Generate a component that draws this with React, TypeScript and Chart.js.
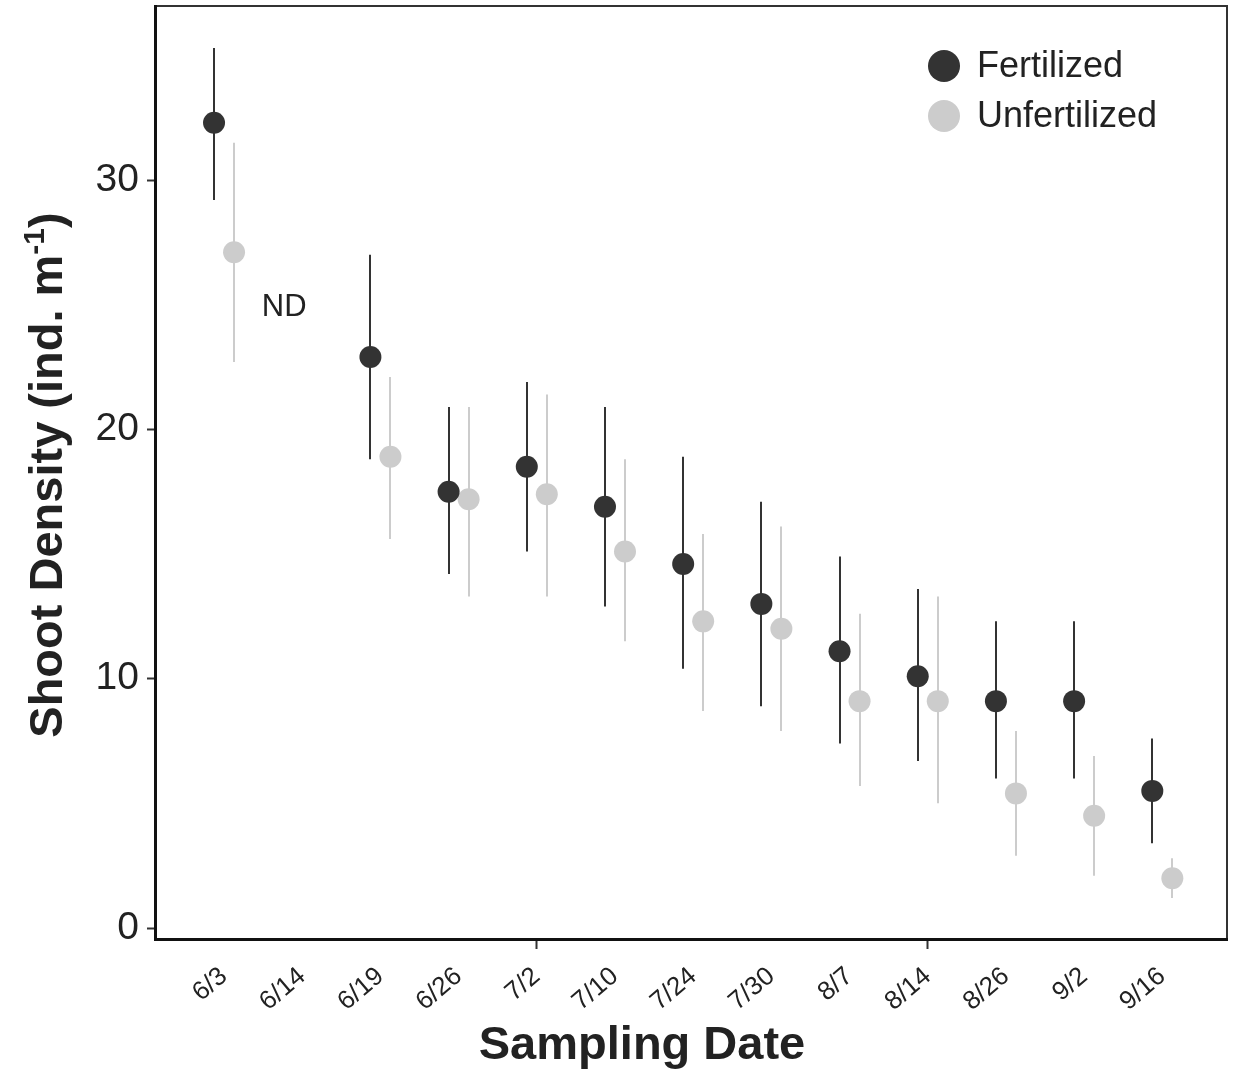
import React, { useEffect, useRef } from "react";
import { Chart, registerables } from "chart.js";

Chart.register(...registerables);

// ---- data ----
const dates = ["6/3", "6/14", "6/19", "6/26", "7/2", "7/10", "7/24", "7/30", "8/7", "8/14", "8/26", "9/2", "9/16"];
const fertMean = [32.3, null, 22.9, 17.5, 18.5, 16.9, 14.6, 13.0, 11.1, 10.1, 9.1, 9.1, 5.5];
const fertLow = [29.2, null, 18.8, 14.2, 15.1, 12.9, 10.4, 8.9, 7.4, 6.7, 6.0, 6.0, 3.4];
const fertHigh = [35.3, null, 27.0, 20.9, 21.9, 20.9, 18.9, 17.1, 14.9, 13.6, 12.3, 12.3, 7.6];
const unfertMean = [27.1, null, 18.9, 17.2, 17.4, 15.1, 12.3, 12.0, 9.1, 9.1, 5.4, 4.5, 2.0];
const unfertLow = [22.7, null, 15.6, 13.3, 13.3, 11.5, 8.7, 7.9, 5.7, 5.0, 2.9, 2.1, 1.2];
const unfertHigh = [31.5, null, 22.1, 20.9, 21.4, 18.8, 15.8, 16.1, 12.6, 13.3, 7.9, 6.9, 2.8];
const yTicks = [0, 10, 20, 30];
const markedDates = ["7/2", "8/14"];
const ndDate = "6/14";
const ndLabel = "ND";
const ndY = 24.9;
const seriesNames = ["Fertilized", "Unfertilized"];
const xTitle = "Sampling Date";
const yTitleMain = "Shoot Density (ind. m";
const yTitleSup = "-1";
const yTitleEnd = ")";

const FERT_COLOR = "#333333";
const UNFERT_COLOR = "#cccccc";
const DODGE = 0.128;
const FONT = "'Liberation Sans', Arial, Helvetica, sans-serif";

function buildPoints(mean: (number | null)[], low: (number | null)[], high: (number | null)[], off: number) {
  const pts: any[] = [];
  mean.forEach((m, i) => {
    if (m !== null) pts.push({ x: i + off, y: m, low: low[i], high: high[i] });
  });
  return pts;
}

const errorBarPlugin = {
  id: "errorBars",
  beforeDatasetsDraw(chart: any) {
    const { ctx, chartArea } = chart;
    const xs = chart.scales.x;
    const ys = chart.scales.y;
    ctx.save();
    ctx.beginPath();
    ctx.rect(chartArea.left, chartArea.top, chartArea.right - chartArea.left, chartArea.bottom - chartArea.top);
    ctx.clip();
    chart.data.datasets.forEach((ds: any) => {
      ctx.strokeStyle = ds.backgroundColor;
      ctx.lineWidth = 2;
      ds.data.forEach((p: any) => {
        const px = Math.round(xs.getPixelForValue(p.x));
        ctx.beginPath();
        ctx.moveTo(px, ys.getPixelForValue(p.low));
        ctx.lineTo(px, ys.getPixelForValue(p.high));
        ctx.stroke();
      });
    });
    ctx.restore();
  },
};

const decorPlugin = {
  id: "decor",
  afterDraw(chart: any) {
    const { ctx, chartArea } = chart;
    const xs = chart.scales.x;
    const ys = chart.scales.y;
    const { left, right, top, bottom } = chartArea;
    ctx.save();
    // frame
    ctx.strokeStyle = "#333333";
    ctx.lineWidth = 2;
    ctx.beginPath();
    ctx.moveTo(left, top + 1);
    ctx.lineTo(right - 1, top + 1);
    ctx.lineTo(right - 1, bottom);
    ctx.stroke();
    ctx.strokeStyle = "#111111";
    ctx.lineWidth = 3;
    ctx.beginPath();
    ctx.moveTo(left + 0.5, top);
    ctx.lineTo(left + 0.5, bottom - 0.5);
    ctx.lineTo(right, bottom - 0.5);
    ctx.stroke();

    // ND label
    ctx.fillStyle = "#222222";
    ctx.font = `31px ${FONT}`;
    ctx.textAlign = "center";
    ctx.textBaseline = "middle";
    ctx.fillText(ndLabel, xs.getPixelForValue(dates.indexOf(ndDate) - 0.23), ys.getPixelForValue(ndY));

    // legend
    const lx = right - 284;
    const colors = [FERT_COLOR, UNFERT_COLOR];
    seriesNames.forEach((name, i) => {
      const cy = top + 61 + i * 50;
      ctx.fillStyle = colors[i];
      ctx.beginPath();
      ctx.arc(lx, cy, 16, 0, Math.PI * 2);
      ctx.fill();
      ctx.fillStyle = "#222222";
      ctx.font = `36px ${FONT}`;
      ctx.textAlign = "left";
      ctx.textBaseline = "middle";
      ctx.fillText(name, lx + 33, cy + 1);
    });

    // x title
    ctx.fillStyle = "#222222";
    ctx.font = `bold 47px ${FONT}`;
    ctx.textAlign = "center";
    ctx.textBaseline = "alphabetic";
    ctx.fillText(xTitle, 642, 1059);

    // y title with superscript
    ctx.translate(62, 475);
    ctx.rotate(-Math.PI / 2);
    const mainFont = `bold 47px ${FONT}`;
    const supFont = `bold 30px ${FONT}`;
    ctx.font = mainFont;
    const w1 = ctx.measureText(yTitleMain).width;
    const w3 = ctx.measureText(yTitleEnd).width;
    ctx.font = supFont;
    const w2 = ctx.measureText(yTitleSup).width;
    const total = w1 + w2 + w3;
    let x = -total / 2;
    ctx.textAlign = "left";
    ctx.font = mainFont;
    ctx.fillText(yTitleMain, x, 0);
    x += w1;
    ctx.font = supFont;
    ctx.fillText(yTitleSup, x, -18);
    x += w2;
    ctx.font = mainFont;
    ctx.fillText(yTitleEnd, x, 0);
    ctx.restore();
  },
};

export default function App() {
  const ref = useRef<HTMLCanvasElement | null>(null);
  useEffect(() => {
    if (!ref.current) return;
    const chart = new Chart(ref.current, {
      type: "scatter",
      data: {
        datasets: [
          {
            label: seriesNames[0],
            data: buildPoints(fertMean, fertLow, fertHigh, -DODGE),
            backgroundColor: FERT_COLOR,
            borderWidth: 0,
            pointRadius: 11,
            pointHoverRadius: 11,
          },
          {
            label: seriesNames[1],
            data: buildPoints(unfertMean, unfertLow, unfertHigh, DODGE),
            backgroundColor: UNFERT_COLOR,
            borderWidth: 0,
            pointRadius: 11,
            pointHoverRadius: 11,
          },
        ],
      },
      options: {
        responsive: false,
        animation: false,
        events: [],
        layout: { autoPadding: false, padding: { top: 5, right: 5, left: 0, bottom: 0 } },
        plugins: { legend: { display: false }, tooltip: { enabled: false } },
        scales: {
          x: {
            type: "linear",
            min: -0.883,
            max: 12.84,
            afterBuildTicks: (scale: any) => {
              scale.ticks = dates.map((_, i) => ({ value: i }));
            },
            afterFit: (scale: any) => {
              scale.height = 134;
              scale.paddingLeft = 0;
              scale.paddingRight = 0;
            },
            border: { display: false },
            grid: {
              drawOnChartArea: false,
              drawTicks: true,
              tickLength: 9,
              tickWidth: 2,
              tickColor: (c: any) =>
                c.tick && markedDates.includes(dates[c.tick.value]) ? "#333333" : "rgba(0,0,0,0)",
            },
            ticks: {
              autoSkip: false,
              maxRotation: 40,
              minRotation: 40,
              padding: 12,
              color: "#222222",
              font: { family: FONT, size: 26 },
              callback: (v: any) => dates[v] ?? "",
            },
          },
          y: {
            type: "linear",
            min: -0.48,
            max: 37.02,
            afterBuildTicks: (scale: any) => {
              scale.ticks = yTicks.map((v) => ({ value: v }));
            },
            afterFit: (scale: any) => {
              scale.width = 155;
              scale.paddingTop = 0;
              scale.paddingBottom = 0;
            },
            border: { display: false },
            grid: {
              drawOnChartArea: false,
              drawTicks: true,
              tickLength: 8,
              tickWidth: 2,
              tickColor: "#333333",
            },
            ticks: {
              padding: 8,
              color: "#222222",
              font: { family: FONT, size: 39 },
            },
          },
        },
      },
      plugins: [errorBarPlugin, decorPlugin],
    } as any);
    return () => chart.destroy();
  }, []);
  return (
    <div style={{ position: "absolute", left: 0, top: 0, width: 1233, height: 1074, background: "#fff" }}>
      <canvas ref={ref} width={1233} height={1074} style={{ display: "block" }} />
    </div>
  );
}
